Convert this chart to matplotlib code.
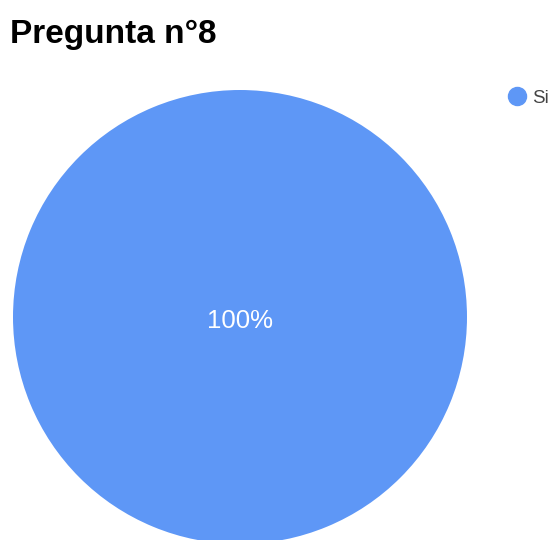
import matplotlib.pyplot as plt
from matplotlib.lines import Line2D

labels = ['Si']
values = [100]
colors = ['#5e97f6']
title = 'Pregunta n°8'

W, H = 557, 540
fig = plt.figure(figsize=(W / 100, H / 100), dpi=100)

# pie area: center (240, 317), radius 227 px
cx, cy, r = 240, 317, 227
ax = fig.add_axes([(cx - r) / W, (H - cy - r) / H, 2 * r / W, 2 * r / H])
wedges, texts, autotexts = ax.pie(
    values, colors=colors, startangle=90, counterclock=False, radius=1,
    autopct='%1.0f%%', pctdistance=0,
    textprops=dict(color='white', fontsize=18.5, family='Liberation Sans'),
    wedgeprops=dict(linewidth=0))
for t in autotexts:
    t.set_position((0, -0.018))
ax.set_xlim(-1, 1)
ax.set_ylim(-1, 1)
ax.set_aspect('equal')
ax.axis('off')

fig.text(10 / W, 1 - 43 / H, title, fontsize=24, fontweight='bold',
         family='Liberation Sans', ha='left', va='baseline')

# legend
handles = [Line2D([], [], marker='o', linestyle='', markersize=13,
                  markerfacecolor=c, markeredgecolor=c) for c in colors]
fig.legend(handles, labels, loc='center left', bbox_to_anchor=(496 / W, 1 - 98 / H),
           frameon=False, handletextpad=0.2, borderpad=0, handlelength=1.2,
           prop=dict(family='Liberation Sans', size=13.5), labelcolor='#444444')

fig.savefig('out.png', dpi=100)
